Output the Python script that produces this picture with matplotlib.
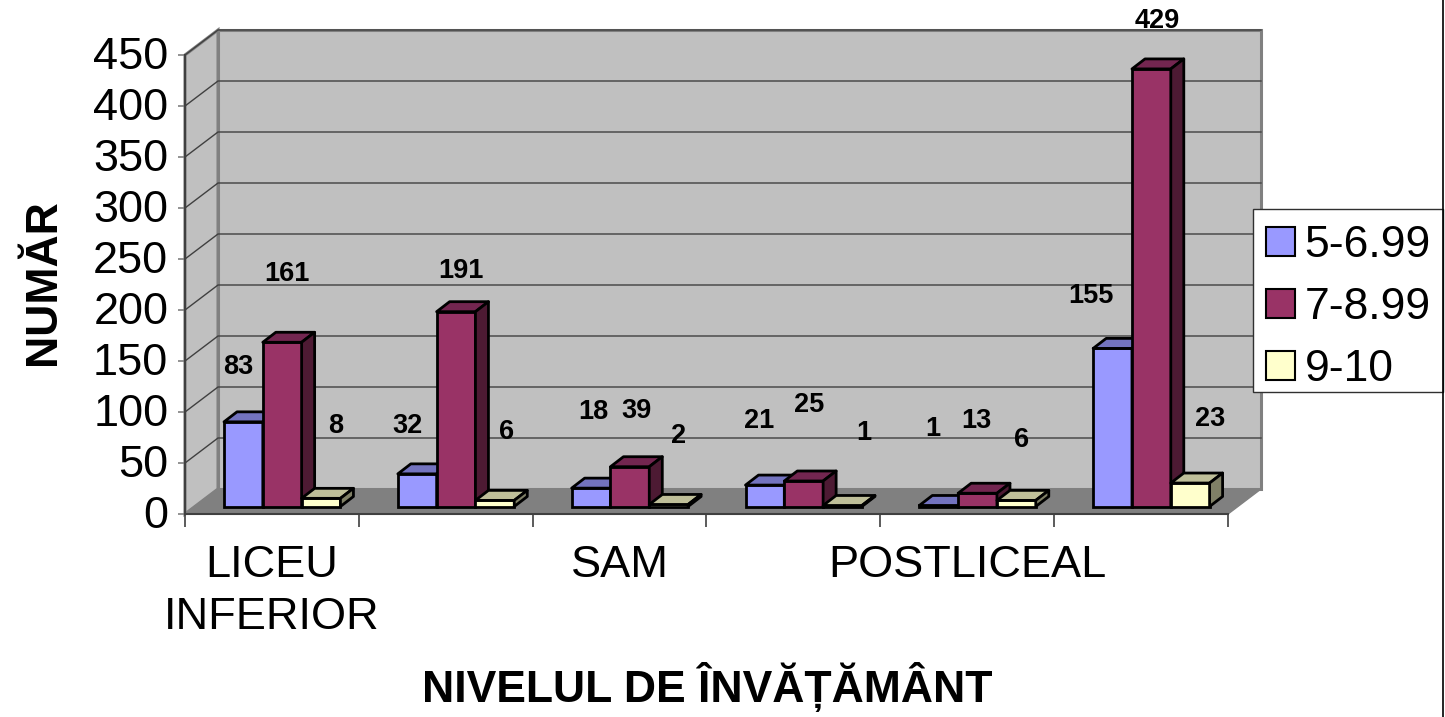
import matplotlib
matplotlib.use('Agg')
import matplotlib.pyplot as plt
from matplotlib.lines import Line2D
from matplotlib.patches import Patch, Rectangle
from matplotlib.transforms import ScaledTranslation

categories = ['LICEU\nINFERIOR', '', 'SAM', '', 'POSTLICEAL', '']
series_names = ['5-6.99', '7-8.99', '9-10']
low_grades = [83, 32, 18, 21, 1, 155]
mid_grades = [161, 191, 39, 25, 13, 429]
high_grades = [8, 6, 2, 1, 6, 23]
y_ticks = [0, 50, 100, 150, 200, 250, 300, 350, 400, 450]

# label offsets from the top middle of each bar, in pixels
low_offsets = [(-5, 55), (-10, 48), (2, 76), (-6, 64), (-6, 76), (-22, 52)]
mid_offsets = [(5, 68), (5, 41), (7, 56), (5, 76), (-1, 72), (6, 48)]
high_offsets = [(15, 72), (12, 68), (10, 68), (21, 72), (5, 60), (20, 64)]

front_colors = ['#9999FF', '#993366', '#FFFFCC']
top_colors = ['#7373BF', '#732650', '#BFBF99']
side_colors = ['#4D4D80', '#4D1A33', '#808066']

W, H = 1445, 717
LEFT, RIGHT, BOTTOM, TOP = 185, 1228, 514, 55

plt.rcParams['font.family'] = ['Liberation Sans', 'DejaVu Sans']
fig = plt.figure(figsize=(W / 100, H / 100), dpi=100)
ax = fig.add_axes([LEFT / W, 1 - BOTTOM / H, (RIGHT - LEFT) / W, (BOTTOM - TOP) / H])
ax.set_xlim(0, 6)
ax.set_ylim(0, 450)

# wall and floor depth, bar depth, in data units
wall_dx = 33 / 173.8
wall_dy = 25 / 1.02
bar_dx = 13 / 173.8
bar_dy = 10 / 1.02
bar_base = 7.5 / 1.02
bar_width = 38.8 / 173.8
first_bar = 39 / 173.8

wall_gray = '#C0C0C0'
edge_gray = '#808080'

ax.fill([wall_dx, 6 + wall_dx, 6 + wall_dx, wall_dx],
        [wall_dy, wall_dy, 450 + wall_dy, 450 + wall_dy],
        facecolor=wall_gray, edgecolor=edge_gray, lw=2.2, clip_on=False, zorder=1)
ax.fill([0, wall_dx, wall_dx, 0], [0, wall_dy, 450 + wall_dy, 450],
        facecolor=wall_gray, edgecolor=edge_gray, lw=2.2, clip_on=False, zorder=1)
ax.fill([0, wall_dx, 6 + wall_dx, 6], [0, wall_dy, wall_dy, 0],
        facecolor=edge_gray, edgecolor=edge_gray, lw=1, clip_on=False, zorder=1)

# gridlines run across the back wall and down the left wall
for v in y_ticks[1:]:
    ax.plot([0, wall_dx, 6 + wall_dx], [v, v + wall_dy, v + wall_dy],
            color='#404040', lw=1, clip_on=False, zorder=2, solid_joinstyle='miter')

all_values = [low_grades, mid_grades, high_grades]
all_offsets = [low_offsets, mid_offsets, high_offsets]
for i in range(len(categories)):
    for j in range(3):
        value = all_values[j][i]
        x0 = i + first_bar + j * bar_width
        x1 = x0 + bar_width
        y0 = bar_base
        y1 = bar_base + value
        ax.bar(x0, value, bar_width, bottom=y0, align='edge', color=front_colors[j],
               edgecolor='black', lw=2, clip_on=False, zorder=3 + j)
        ax.fill([x0, x1, x1 + bar_dx, x0 + bar_dx], [y1, y1, y1 + bar_dy, y1 + bar_dy],
                facecolor=top_colors[j], edgecolor='black', lw=2, clip_on=False, zorder=3 + j,
                joinstyle='round')
        ax.fill([x1, x1 + bar_dx, x1 + bar_dx, x1], [y0, y0 + bar_dy, y1 + bar_dy, y1],
                facecolor=side_colors[j], edgecolor='black', lw=2, clip_on=False, zorder=3 + j,
                joinstyle='round')
        ax.annotate(str(value), (x0 + bar_width / 2, y1), xytext=all_offsets[j][i],
                    textcoords='offset pixels', ha='center', va='center',
                    fontsize=19.5, fontweight='bold', annotation_clip=False, zorder=10)

for side in ['top', 'right']:
    ax.spines[side].set_visible(False)
for side in ['left', 'bottom']:
    ax.spines[side].set_color('#404040')
    ax.spines[side].set_linewidth(1.5)
    ax.spines[side].set_zorder(2.5)

ax.set_yticks(y_ticks)
ax.tick_params(axis='y', labelsize=32.5, length=5, width=1.2, color=edge_gray, pad=7)
# numbers sit a little above their ticks
lift = ScaledTranslation(0, 2 / 100, fig.dpi_scale_trans)
for label in ax.get_yticklabels():
    label.set_transform(label.get_transform() + lift)
ax.set_xticks(range(7))
ax.set_xticklabels([])
ax.tick_params(axis='x', which='major', length=9, width=1.2, color='#404040')
ax.set_xticks([i + 0.5 for i in range(6)], minor=True)
ax.set_xticklabels(categories, minor=True, fontsize=32.5, linespacing=1.36)
ax.tick_params(axis='x', which='minor', length=0, pad=22)

ax.set_xlabel('NIVELUL DE ÎNVĂȚĂMÂNT', fontsize=32, fontweight='bold', va='center')
ax.xaxis.set_label_coords((707 - LEFT) / (RIGHT - LEFT), (BOTTOM - 687) / (BOTTOM - TOP))
ax.set_ylabel('NUMĂR', fontsize=32, fontweight='bold', va='center')
ax.yaxis.set_label_coords((43 - LEFT) / (RIGHT - LEFT), (BOTTOM - 282) / (BOTTOM - TOP))

# legend box is drawn apart so its size does not depend on the text
fig.add_artist(Rectangle((1253 / W, 1 - 392 / H), 190 / W, 183 / H, transform=fig.transFigure,
                         facecolor='white', edgecolor='#303030', lw=1, zorder=19))
handles = [Patch(facecolor=c, edgecolor='black', lw=1.5) for c in front_colors]
leg = fig.legend(handles, series_names, loc='upper left',
                 bbox_to_anchor=(1253 / W, 1 - 212 / H), borderaxespad=0,
                 fontsize=32, frameon=False, handlelength=0.64, handleheight=0.64,
                 handletextpad=0.22, labelspacing=0.47, borderpad=0.3)
leg.set_zorder(20)

# the picture keeps the chart frame on its right side
fig.add_artist(Line2D([1443 / W, 1443 / W], [0, 1], color='black', lw=1.2, zorder=21))

fig.savefig('out.png', dpi=100)
